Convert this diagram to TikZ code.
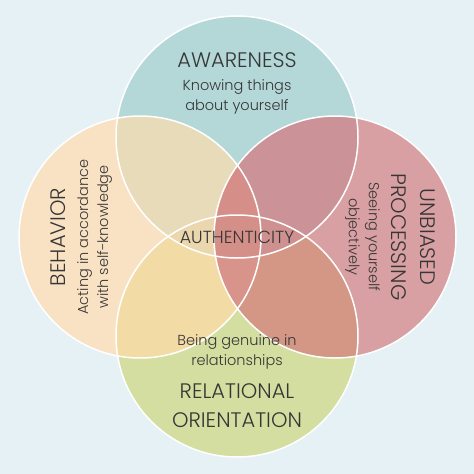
\documentclass[tikz,border=0pt]{standalone}
\usepackage{fontspec}
\setmainfont{Poppins}[UprightFont={* Light}]
\definecolor{bgc}{HTML}{E6F1F5}
\definecolor{ctop}{HTML}{B4D7D8}
\definecolor{cleft}{HTML}{F9E2C3}
\definecolor{cright}{HTML}{D9A0A3}
\definecolor{cbot}{HTML}{D3DEA0}
\definecolor{cTL}{HTML}{E8DBBA}
\definecolor{cTR}{HTML}{CB9298}
\definecolor{cLB}{HTML}{F2DBA5}
\definecolor{cRB}{HTML}{D49786}
\definecolor{cTLR}{HTML}{D68F88}
\definecolor{cLRB}{HTML}{D8948A}
\definecolor{cTLB}{HTML}{EAD7AE}
\definecolor{cTRB}{HTML}{CF9190}
\definecolor{cALL}{HTML}{D58F89}
\definecolor{txt}{HTML}{363636}
\tikzset{
  title/.style={text=txt, font=\fontsize{21}{29}\selectfont, align=center, inner sep=0pt},
  subtxt/.style={text=txt, font=\fontsize{14.5}{20}\selectfont, align=center, inner sep=0pt},
  ring/.style={draw=white, line width=1.5pt}
}
\begin{document}
\begin{tikzpicture}[x=1pt,y=-1pt]
\fill[bgc] (0,0) rectangle (474,474);
\useasboundingbox (0,0) rectangle (474,474);
\coordinate (ct) at (237,137);
\coordinate (cl) at (140,237);
\coordinate (cr) at (335,237);
\coordinate (cb) at (237,336);
\def\RR{121pt}
% single circles
\fill[ctop] (ct) circle (\RR);
\fill[cleft] (cl) circle (\RR);
\fill[cright] (cr) circle (\RR);
\fill[cbot] (cb) circle (\RR);
% pairs
\begin{scope}\clip (ct) circle (\RR); \fill[cTL] (cl) circle (\RR); \end{scope}
\begin{scope}\clip (ct) circle (\RR); \fill[cTR] (cr) circle (\RR); \end{scope}
\begin{scope}\clip (cb) circle (\RR); \fill[cLB] (cl) circle (\RR); \end{scope}
\begin{scope}\clip (cb) circle (\RR); \fill[cRB] (cr) circle (\RR); \end{scope}
% triples
\begin{scope}\clip (ct) circle (\RR); \clip (cl) circle (\RR); \fill[cTLR] (cr) circle (\RR); \end{scope}
\begin{scope}\clip (cb) circle (\RR); \clip (cl) circle (\RR); \fill[cLRB] (cr) circle (\RR); \end{scope}
\begin{scope}\clip (ct) circle (\RR); \clip (cb) circle (\RR); \fill[cTLB] (cl) circle (\RR); \end{scope}
\begin{scope}\clip (ct) circle (\RR); \clip (cb) circle (\RR); \fill[cTRB] (cr) circle (\RR); \end{scope}
% all four
\begin{scope}\clip (ct) circle (\RR); \clip (cb) circle (\RR); \clip (cl) circle (\RR); \fill[cALL] (cr) circle (\RR); \end{scope}
% outlines
\draw[ring] (ct) circle (\RR);
\draw[ring] (cl) circle (\RR);
\draw[ring] (cr) circle (\RR);
\draw[ring] (cb) circle (\RR);
% texts
\node[title] (aw) at (237,60) {AWARENESS};
\node[subtxt] (awd) at (237,97) {Knowing things\\about yourself};
\node[title, rotate=90] (be) at (58,237) {BEHAVIOR};
\node[subtxt, rotate=90] (bed) at (94.5,237) {Acting in accordance\\with self-knowledge};
\node[title, rotate=-90] (up) at (413.5,237) {UNBIASED\\PROCESSING};
\node[subtxt, rotate=-90] (upd) at (362.5,237) {Seeing yourself\\objectively};
\node[subtxt] (rod) at (237,352) {Being genuine in\\relationships};
\node[title] (ro) at (237,406) {RELATIONAL\\ORIENTATION};
\node[title, font=\fontsize{17.5}{20}\selectfont] (au) at (237,237) {AUTHENTICITY};
\end{tikzpicture}
\end{document}
